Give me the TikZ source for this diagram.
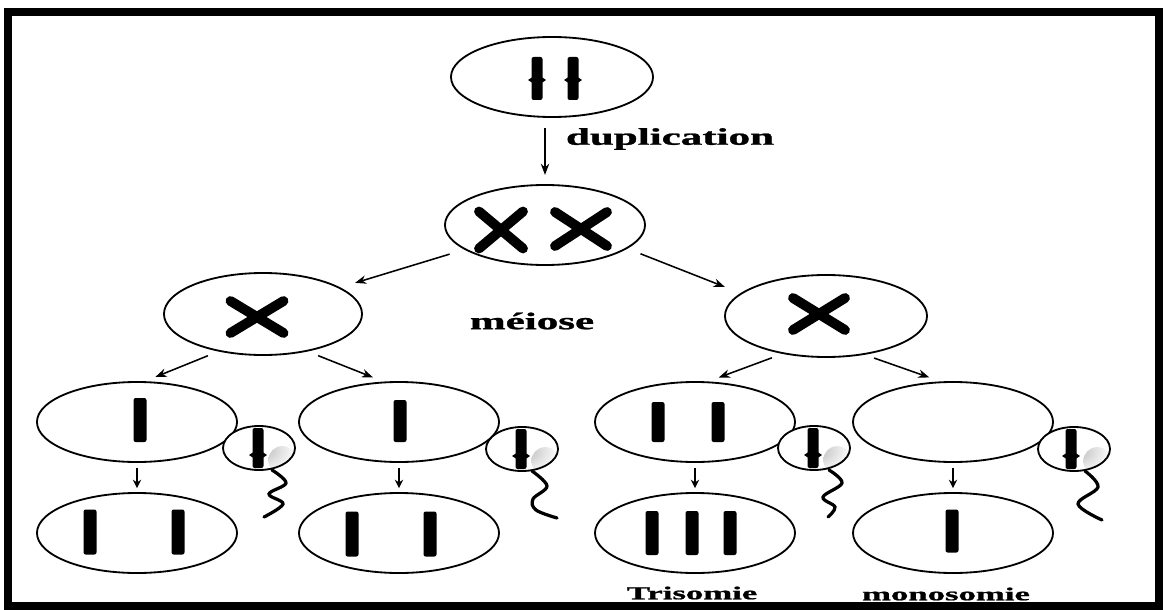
\documentclass[tikz,border=0pt]{standalone}
\usepackage{fontspec}
\setmainfont{Liberation Serif}
\newfontfamily\lblfont[FakeBold=1]{Liberation Serif}
\usetikzlibrary{arrows.meta,shapes.geometric}

% a plain chromatid bar: x, y (middle), height
\newcommand{\chrbar}[3]{%
  \fill[rounded corners=1.5pt] (#1-6.5,#2-#3/2) rectangle (#1+6.5,#2+#3/2);}
% a bar with its centromere: x, top, bottom, centromere y
\newcommand{\chrcen}[4]{%
  \fill[rounded corners=1.5pt] (#1-5.5,#2) rectangle (#1+5.5,#3);
  \fill (#1-9,#4) -- (#1,#4-6) -- (#1+9,#4) -- (#1,#4+6) -- cycle;}
% a duplicated chromosome: x, y, width, height
\newcommand{\chrx}[4]{%
  \draw[xarm] (#1-#3/2,#2-#4/2) -- (#1+#3/2,#2+#4/2)
              (#1+#3/2,#2-#4/2) -- (#1-#3/2,#2+#4/2);}

\begin{document}
\begin{tikzpicture}[x=0.025cm, y=-0.025cm,
    cell/.style={ellipse, draw, line width=1.3pt, minimum width=5cm, minimum height=2cm, inner sep=0pt},
    head/.style={ellipse, draw, fill=white, line width=1.3pt, minimum width=1.8cm, minimum height=1.1cm, inner sep=0pt,
      path picture={\shade[inner color=gray!55, outer color=white]
        ([xshift=-9pt,yshift=7pt]path picture bounding box.south east) circle (10pt);}},
    arr/.style={line width=1.1pt, -{Stealth[length=8pt,width=6pt]}},
    arrs/.style={line width=1pt, -{Stealth[length=6pt,width=6pt]}},
    xarm/.style={line width=7pt, line cap=round},
    tail/.style={line width=2.3pt, line cap=round},
    lbl/.style={font=\lblfont\fontsize{17}{20}\selectfont\bfseries, inner sep=0pt},
    lbls/.style={font=\lblfont\fontsize{13}{16}\selectfont\bfseries, inner sep=0pt}]
    \useasboundingbox (0,0) rectangle (1163,610);

    % frame
    \draw[line width=5.7pt] (8,12) rectangle (1159,606);

    % mother cell and the duplicated one
    \node[cell, minimum width=5.05cm] (top) at (552,77) {};
    \chrcen{537}{57}{100}{80}
    \chrcen{573}{57}{100}{80}

    \node[cell] (xx) at (545,225) {};
    \chrx{501}{230}{44}{37}
    \chrx{581}{229}{52}{34}

    % first division
    \node[cell, minimum width=4.95cm, minimum height=2.05cm] (xl) at (263,314) {};
    \chrx{257}{317}{53}{32}
    \node[cell, minimum width=5.05cm, minimum height=2.05cm] (xr) at (826,316) {};
    \chrx{819}{314}{52}{32}

    % gametes
    \node[cell] (l1) at (137,422) {};
    \chrbar{140}{420}{44}
    \node[cell] (l2) at (399,422) {};
    \chrbar{400}{421}{42}
    \node[cell] (r1) at (695,422) {};
    \chrbar{658}{422}{40}
    \chrbar{718}{422}{40}
    \node[cell] (r2) at (953,422) {};

    % zygotes
    \node[cell] (l1b) at (137,533) {};
    \chrbar{90}{532}{45}
    \chrbar{178}{532}{45}
    \node[cell] (l2b) at (399,533) {};
    \chrbar{352}{534}{45}
    \chrbar{430}{534}{45}
    \node[cell] (r1b) at (695,533) {};
    \chrbar{652}{533}{44}
    \chrbar{692}{533}{44}
    \chrbar{730}{533}{44}
    \node[cell] (r2b) at (953,533) {};
    \chrbar{952}{531}{43}

    % sperm cells
    \node[head] (s1) at (259,448) {};
    \chrcen{258}{428}{468}{455}
    \draw[tail] plot[smooth, tension=0.6] coordinates {(272,470) (286,483) (269,494) (283,504) (264,517)};
    \node[head] (s2) at (522,449) {};
    \chrcen{521}{429}{469}{456}
    \draw[tail] plot[smooth, tension=0.6] coordinates {(532,471) (547,486) (533,499) (536,510) (557,518)};
    \node[head] (s3) at (814,448) {};
    \chrcen{813}{428}{468}{455}
    \draw[tail] plot[smooth, tension=0.6] coordinates {(829,470) (842,483) (823,497) (835,507) (828,517)};
    \node[head] (s4) at (1074,449) {};
    \chrcen{1071}{429}{469}{456}
    \draw[tail] plot[smooth, tension=0.6] coordinates {(1085,471) (1098,487) (1078,504) (1102,520)};

    % arrows
    \draw[arr, shorten <=7pt, shorten >=6.5pt] (top.south -| xx.north) -- (xx.north);
    \draw[arr, shorten <=11pt, shorten >=11pt] (xx.197) -- (xl.19);
    \draw[arr, shorten <=10pt, shorten >=12pt] (xx.344) -- (xr.165);
    \draw[arr, shorten <=8pt, shorten >=8pt] (xl.220) -- (l1.79);
    \draw[arr, shorten <=8pt, shorten >=8pt] (xl.320) -- (l2.111);
    \draw[arr, shorten <=8pt, shorten >=8pt] (xr.221) -- (r1.72);
    \draw[arr, shorten <=7pt, shorten >=8.5pt] (xr.315) -- (r2.107);
    \foreach \c in {l1,l2,r1,r2}
      \draw[arrs, shorten <=3.5pt, shorten >=2.8pt] (\c.south) -- (\c b.north);

    % labels
    \node[lbl] (dup) at (670,139) {\scalebox{1.8}[1]{duplication}};
    \node[lbl] (meio) at (532,321) {\scalebox{1.8}[1]{méiose}};
    \node[lbls] (tri) at (692,593) {\scalebox{1.9}[1]{Trisomie}};
    \node[lbls] (mono) at (946,594) {\scalebox{1.9}[1]{monosomie}};
\end{tikzpicture}
\end{document}
